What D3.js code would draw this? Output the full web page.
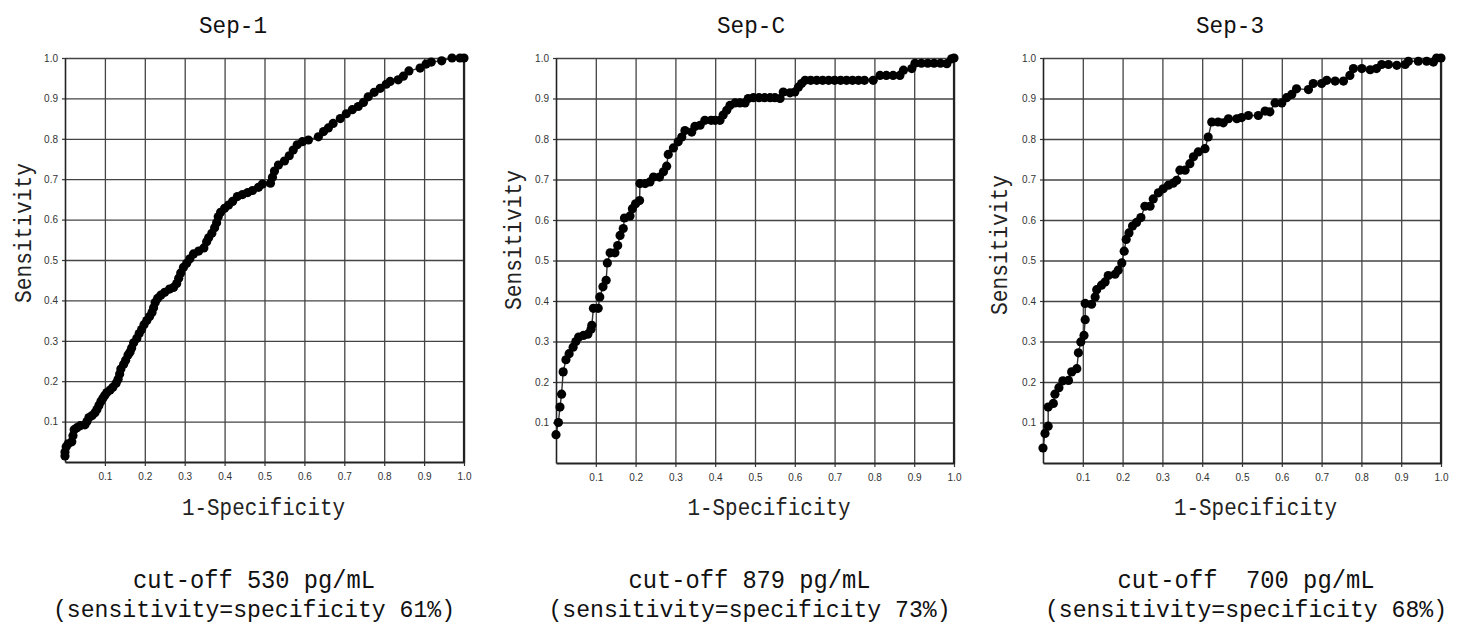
<!DOCTYPE html>
<html><head><meta charset="utf-8">
<script src="https://cdn.jsdelivr.net/npm/d3@7"></script>
<style>
html,body{margin:0;padding:0;background:#fff;}
svg{display:block;}
</style></head>
<body>
<svg id="chart" width="1466" height="626"></svg>
<script>
// ---------- data ----------
const panelTitles = ["Sep-1", "Sep-C", "Sep-3"];
const cutoffLines = ["cut-off 530 pg/mL", "cut-off 879 pg/mL", "cut-off  700 pg/mL"];
const sensSpecLines = ["(sensitivity=specificity 61%)", "(sensitivity=specificity 73%)", "(sensitivity=specificity 68%)"];
const tickValues = [0.1, 0.2, 0.3, 0.4, 0.5, 0.6, 0.7, 0.8, 0.9, 1.0];
const tickLabels = ["0.1", "0.2", "0.3", "0.4", "0.5", "0.6", "0.7", "0.8", "0.9", "1.0"];
const xAxisTitle = "1-Specificity";
const yAxisTitle = "Sensitivity";

const sep1FPR = [0,0,0.003,0.008,0.017,0.02,0.023,0.03,0.038,0.05,0.055,0.06,0.068,0.075,0.08,0.085,0.09,0.095,0.1,0.105,0.113,0.12,0.128,0.133,0.137,0.14,0.147,0.152,0.158,0.163,0.167,0.172,0.18,0.186,0.192,0.198,0.205,0.212,0.218,0.222,0.226,0.232,0.24,0.25,0.262,0.272,0.28,0.285,0.29,0.297,0.305,0.313,0.322,0.335,0.348,0.355,0.36,0.368,0.375,0.38,0.384,0.39,0.4,0.41,0.42,0.432,0.445,0.458,0.47,0.485,0.495,0.515,0.52,0.525,0.535,0.55,0.562,0.572,0.582,0.595,0.61,0.635,0.648,0.66,0.672,0.69,0.705,0.72,0.735,0.748,0.76,0.775,0.79,0.805,0.815,0.835,0.848,0.862,0.89,0.905,0.918,0.944,0.97,0.99,1.0];
const sep1TPR = [0.015,0.025,0.038,0.045,0.05,0.065,0.08,0.085,0.09,0.092,0.1,0.11,0.115,0.122,0.13,0.14,0.15,0.158,0.165,0.172,0.178,0.185,0.195,0.205,0.218,0.23,0.242,0.252,0.265,0.272,0.282,0.295,0.306,0.318,0.328,0.34,0.35,0.36,0.37,0.382,0.395,0.405,0.413,0.42,0.428,0.432,0.442,0.455,0.468,0.482,0.492,0.503,0.515,0.522,0.53,0.545,0.555,0.566,0.58,0.592,0.607,0.618,0.628,0.636,0.645,0.657,0.662,0.667,0.672,0.68,0.688,0.69,0.705,0.72,0.735,0.745,0.758,0.772,0.785,0.793,0.797,0.805,0.818,0.827,0.838,0.85,0.862,0.872,0.88,0.89,0.904,0.915,0.925,0.935,0.942,0.946,0.955,0.968,0.975,0.985,0.99,0.993,1.0,1.0,1.0];

const sepCFPR = [0,0.006,0.01,0.014,0.018,0.025,0.033,0.043,0.05,0.057,0.069,0.08,0.088,0.09,0.094,0.106,0.11,0.118,0.126,0.129,0.136,0.148,0.155,0.161,0.169,0.172,0.186,0.192,0.2,0.21,0.211,0.224,0.236,0.245,0.26,0.27,0.278,0.282,0.295,0.307,0.316,0.324,0.341,0.349,0.362,0.374,0.39,0.4,0.412,0.42,0.429,0.437,0.45,0.462,0.475,0.483,0.496,0.51,0.524,0.538,0.55,0.563,0.571,0.588,0.6,0.609,0.617,0.626,0.64,0.655,0.67,0.685,0.7,0.715,0.73,0.745,0.76,0.775,0.797,0.814,0.83,0.847,0.864,0.873,0.894,0.902,0.918,0.934,0.95,0.966,0.982,0.994,1.0];
const sepCTPR = [0.07,0.1,0.138,0.17,0.225,0.255,0.27,0.286,0.3,0.311,0.315,0.318,0.33,0.34,0.382,0.382,0.41,0.435,0.451,0.494,0.519,0.519,0.537,0.562,0.579,0.605,0.61,0.628,0.64,0.648,0.69,0.69,0.694,0.706,0.706,0.719,0.733,0.762,0.778,0.793,0.805,0.821,0.817,0.831,0.834,0.846,0.846,0.846,0.846,0.859,0.871,0.883,0.889,0.889,0.889,0.9,0.902,0.902,0.902,0.902,0.902,0.9,0.916,0.914,0.916,0.928,0.937,0.945,0.945,0.945,0.945,0.945,0.945,0.945,0.945,0.945,0.945,0.945,0.945,0.957,0.957,0.957,0.957,0.97,0.974,0.987,0.987,0.987,0.987,0.987,0.986,0.998,1.0];

const sep3FPR = [0,0.005,0.013,0.013,0.026,0.03,0.04,0.05,0.064,0.072,0.085,0.089,0.095,0.103,0.106,0.106,0.122,0.131,0.135,0.147,0.156,0.164,0.181,0.189,0.198,0.204,0.209,0.216,0.225,0.235,0.246,0.256,0.269,0.277,0.29,0.302,0.315,0.327,0.336,0.344,0.357,0.369,0.378,0.39,0.407,0.415,0.424,0.44,0.453,0.466,0.487,0.499,0.516,0.541,0.558,0.57,0.583,0.6,0.612,0.625,0.637,0.667,0.679,0.7,0.713,0.734,0.755,0.771,0.78,0.801,0.822,0.838,0.851,0.868,0.889,0.91,0.918,0.943,0.964,0.981,0.989,1.0];
const sep3TPR = [0.037,0.073,0.091,0.138,0.147,0.17,0.186,0.203,0.204,0.225,0.233,0.272,0.299,0.315,0.354,0.394,0.392,0.41,0.428,0.439,0.447,0.463,0.466,0.476,0.494,0.523,0.552,0.568,0.585,0.594,0.606,0.634,0.634,0.652,0.667,0.677,0.686,0.691,0.698,0.723,0.723,0.739,0.756,0.768,0.776,0.805,0.842,0.842,0.84,0.85,0.85,0.853,0.858,0.858,0.869,0.867,0.889,0.889,0.902,0.91,0.924,0.922,0.937,0.937,0.945,0.943,0.943,0.957,0.974,0.974,0.971,0.974,0.984,0.984,0.982,0.984,0.992,0.992,0.992,0.99,1.0,1.0];

const seriesFPR = [sep1FPR, sepCFPR, sep3FPR];
const seriesTPR = [sep1TPR, sepCTPR, sep3TPR];

// ---------- layout ----------
const layout = [
  {x0: 65,   x1: 464,  y0: 58, y1: 462, titleX: 233,  ytX: 31,   ytY: 233, xtX: 263.5, textX: 254},
  {x0: 556,  x1: 954,  y0: 58, y1: 463, titleX: 751,  ytX: 521,  ytY: 240, xtX: 769,   textX: 749.5},
  {x0: 1043, x1: 1441, y0: 58, y1: 463, titleX: 1230, ytX: 1007, ytY: 245, xtX: 1255.5,textX: 1246}
];

const svg = d3.select("#chart");
const monoFont = "'Liberation Mono', 'DejaVu Sans Mono', monospace";
const tickFont = "'Liberation Sans', Arial, sans-serif";

layout.forEach((L, i) => {
  const x = d3.scaleLinear().domain([0, 1]).range([L.x0, L.x1]);
  const y = d3.scaleLinear().domain([0, 1]).range([L.y1, L.y0]);
  const g = svg.append("g");

  // grid via axes
  const gridX = g.append("g").attr("transform", `translate(0,${L.y1})`)
    .call(d3.axisBottom(x).tickValues(tickValues).tickSizeInner(-(L.y1 - L.y0)).tickSizeOuter(0).tickFormat(""));
  gridX.select(".domain").remove();
  gridX.selectAll("line").attr("stroke", "#444").attr("stroke-width", 1.3);

  const gridY = g.append("g").attr("transform", `translate(${L.x0},0)`)
    .call(d3.axisLeft(y).tickValues(tickValues).tickSizeInner(-(L.x1 - L.x0)).tickSizeOuter(0).tickFormat(""));
  gridY.select(".domain").remove();
  gridY.selectAll("line").attr("stroke", "#444").attr("stroke-width", 1.3);

  // outer ticks + labels
  const axX = g.append("g").attr("transform", `translate(0,${L.y1})`)
    .call(d3.axisBottom(x).tickValues(tickValues).tickSizeInner(4).tickSizeOuter(0)
      .tickFormat((d, k) => tickLabels[k]).tickPadding(7));
  axX.select(".domain").attr("stroke", "#222").attr("stroke-width", 2.2);
  axX.selectAll("line").attr("stroke", "#333").attr("stroke-width", 1.2);
  axX.selectAll("text").attr("font-family", tickFont).attr("font-size", 10).attr("fill", "#333");

  const axY = g.append("g").attr("transform", `translate(${L.x0},0)`)
    .call(d3.axisLeft(y).tickValues(tickValues).tickSizeInner(3).tickSizeOuter(0)
      .tickFormat((d, k) => tickLabels[k]).tickPadding(4));
  axY.select(".domain").attr("stroke", "#222").attr("stroke-width", 1.6);
  axY.selectAll("line").attr("stroke", "#333").attr("stroke-width", 1.2);
  axY.selectAll("text").attr("font-family", tickFont).attr("font-size", 10).attr("fill", "#333");

  // right border
  g.append("line").attr("x1", x(1)).attr("x2", x(1)).attr("y1", y(0) + 1).attr("y2", y(1))
    .attr("stroke", "#222").attr("stroke-width", 2.2);

  // data
  const pts = seriesFPR[i].map((v, k) => [v, seriesTPR[i][k]]);
  g.append("path").datum(pts)
    .attr("fill", "none").attr("stroke", "#333").attr("stroke-width", 1.4)
    .attr("d", d3.line().x(d => x(d[0])).y(d => y(d[1])));
  g.selectAll("circle.pt").data(pts).enter().append("circle")
    .attr("class", "pt")
    .attr("cx", d => x(d[0])).attr("cy", d => y(d[1])).attr("r", 4.6)
    .attr("fill", "#000");

  // titles
  svg.append("text").attr("x", L.titleX).attr("y", 33).attr("text-anchor", "middle")
    .attr("font-family", monoFont).attr("font-size", 24).attr("fill", "#111")
    .attr("textLength", 68).attr("lengthAdjust", "spacingAndGlyphs")
    .text(panelTitles[i]);

  svg.append("text").attr("x", L.xtX).attr("y", 515).attr("text-anchor", "middle")
    .attr("font-family", monoFont).attr("font-size", 23).attr("fill", "#222")
    .attr("textLength", 163).attr("lengthAdjust", "spacingAndGlyphs")
    .text(xAxisTitle);

  svg.append("text").attr("transform", `translate(${L.ytX},${L.ytY}) rotate(-90)`)
    .attr("text-anchor", "middle")
    .attr("font-family", monoFont).attr("font-size", 24).attr("fill", "#222")
    .attr("textLength", 140).attr("lengthAdjust", "spacingAndGlyphs")
    .text(yAxisTitle);

  svg.append("text").attr("x", L.textX).attr("y", 588).attr("text-anchor", "middle")
    .attr("font-family", monoFont).attr("font-size", 25).attr("fill", "#111")
    .attr("xml:space", "preserve").style("white-space", "pre")
    .attr("textLength", i === 2 ? 257 : 242).attr("lengthAdjust", "spacingAndGlyphs")
    .text(cutoffLines[i]);

  svg.append("text").attr("x", L.textX).attr("y", 617).attr("text-anchor", "middle")
    .attr("font-family", monoFont).attr("font-size", 24).attr("fill", "#111")
    .attr("textLength", 402).attr("lengthAdjust", "spacingAndGlyphs")
    .text(sensSpecLines[i]);
});
</script>
</body></html>
